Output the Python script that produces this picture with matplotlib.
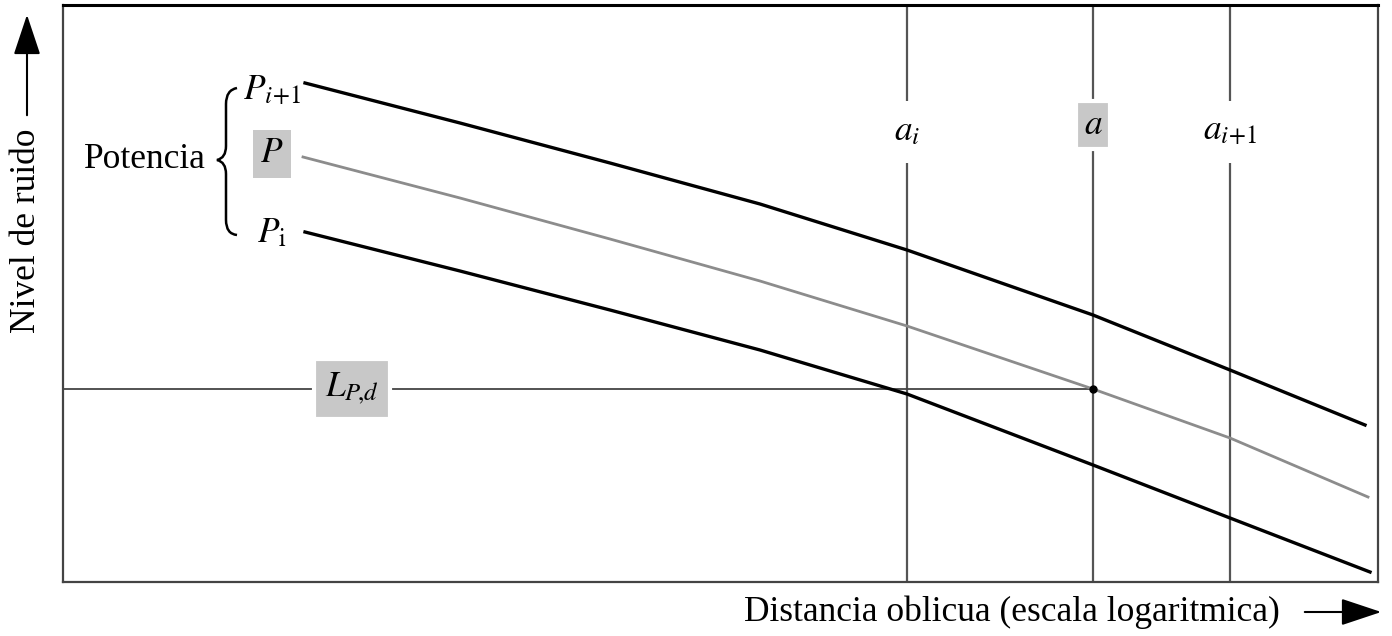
import matplotlib.pyplot as plt
from matplotlib.path import Path
from matplotlib.patches import PathPatch

plt.rcParams['font.family'] = ['Liberation Serif', 'DejaVu Serif']
plt.rcParams['mathtext.fontset'] = 'stix'

# Curvas de nivel de ruido (distancia en escala log, nivel en unidades arbitrarias)
dist_sup = [305, 460, 610, 760, 907, 1093, 1230, 1365]
nivel_sup = [499, 459, 419, 378, 332, 267, 212, 157]      # P_{i+1}

dist_p = [303, 460, 610, 760, 907, 1093, 1230, 1368]
nivel_p = [425, 384, 343, 301, 256, 193, 144, 85]          # P (interpolada)

dist_inf = [305, 460, 610, 760, 907, 1093, 1230, 1370]
nivel_inf = [350, 311, 272, 232, 188, 117, 64, 10]         # P_i

# distancias de referencia
dist_ai = 907
dist_a = 1093
dist_ai1 = 1230
nivel_LPd = 193

gris_caja = '#c8c8c8'
fs = 25.5

fig = plt.figure(figsize=(13.92, 6.36), dpi=100)
ax = fig.add_axes([63 / 1392, 54 / 636, 1315 / 1392, 577 / 636])
ax.set_xlim(63, 1378)
ax.set_ylim(0, 577)
ax.set_xticks([])
ax.set_yticks([])
for s in ax.spines.values():
    s.set_color('#444444')
    s.set_linewidth(1.6)
ax.spines['top'].set_color('black')
ax.spines['top'].set_linewidth(2.2)

# lineas verticales de distancia
for d in [dist_ai, dist_a, dist_ai1]:
    ax.axvline(d, color='#555555', lw=1.6, zorder=1)

# linea horizontal del nivel L_P,d
ax.plot([63, dist_a], [nivel_LPd, nivel_LPd], color='#444444', lw=1.3, zorder=1)

# curvas
ax.plot(dist_sup, nivel_sup, color='black', lw=2.4, zorder=3, solid_joinstyle='round')
ax.plot(dist_p, nivel_p, color='#8c8c8c', lw=2.0, zorder=3, solid_joinstyle='round')
ax.plot(dist_inf, nivel_inf, color='black', lw=2.4, zorder=3, solid_joinstyle='round')
ax.plot([dist_a], [nivel_LPd], 'o', color='black', ms=5, zorder=4)

# etiquetas de las distancias
ax.text(dist_ai, 450, r'$a_i$', fontsize=fs, ha='center', va='center', zorder=2,
        bbox=dict(boxstyle='square,pad=0.42', fc='white', ec='none'))
ax.text(dist_a, 457, r'$a$', fontsize=fs, ha='center', va='center', zorder=2,
        bbox=dict(boxstyle='square,pad=0.22', fc=gris_caja, ec='white', lw=3))
ax.text(dist_ai1, 450, r'$a_{i\!+\!1}$', fontsize=fs, ha='center', va='center', zorder=2,
        bbox=dict(boxstyle='square,pad=0.42', fc='white', ec='none'))

# etiqueta L_P,d
ax.text(352, nivel_LPd, r'$L_{P\!,\!d}$', fontsize=fs, ha='center', va='center', zorder=2,
        bbox=dict(boxstyle='square,pad=0.32', fc=gris_caja, ec='white', lw=3))

# etiquetas de potencia
ax.text(272, 491, r'$P_{i\!+\!1}$', fontsize=fs, ha='center', va='center')
ax.text(272, 428, r'$P$', fontsize=fs, ha='center', va='center',
        bbox=dict(boxstyle='square,pad=0.22', fc=gris_caja, ec='none'))
ax.text(272, 348, r'$P_{\mathrm{i}}$', fontsize=fs, ha='center', va='center')
ax.text(145, 422, 'Potencia', fontsize=fs, ha='center', va='center')

# llave
verts = [(237, 494), (226, 492), (226, 478),
         (226, 436),
         (226, 424), (217, 422),
         (226, 420), (226, 408),
         (226, 362),
         (226, 348), (237, 347)]
codes = [Path.MOVETO, Path.CURVE3, Path.CURVE3,
         Path.LINETO,
         Path.CURVE3, Path.CURVE3,
         Path.CURVE3, Path.CURVE3,
         Path.LINETO,
         Path.CURVE3, Path.CURVE3]
ax.add_patch(PathPatch(Path(verts, codes), fc='none', ec='black', lw=1.8))

# ejes con flechas
fig.text(1012 / 1392, 1 - 612 / 636, 'Distancia oblicua (escala logaritmica)',
         fontsize=fs, ha='center', va='center')
ax.annotate('', xy=(1384 / 1392, 1 - 612 / 636), xytext=(1302 / 1392, 1 - 612 / 636),
            xycoords='figure fraction', textcoords='figure fraction',
            arrowprops=dict(arrowstyle='-|>,head_length=0.9,head_width=0.3',
                            color='black', lw=1.5, mutation_scale=28))

fig.text(27 / 1392, 1 - 231 / 636, 'Nivel de ruido', fontsize=fs, rotation=90,
         ha='center', va='center')
ax.annotate('', xy=(27 / 1392, 1 - 12 / 636), xytext=(27 / 1392, 1 - 118 / 636),
            xycoords='figure fraction', textcoords='figure fraction',
            arrowprops=dict(arrowstyle='-|>,head_length=0.9,head_width=0.3',
                            color='black', lw=1.5, mutation_scale=28))

fig.savefig('out.png', dpi=100)
